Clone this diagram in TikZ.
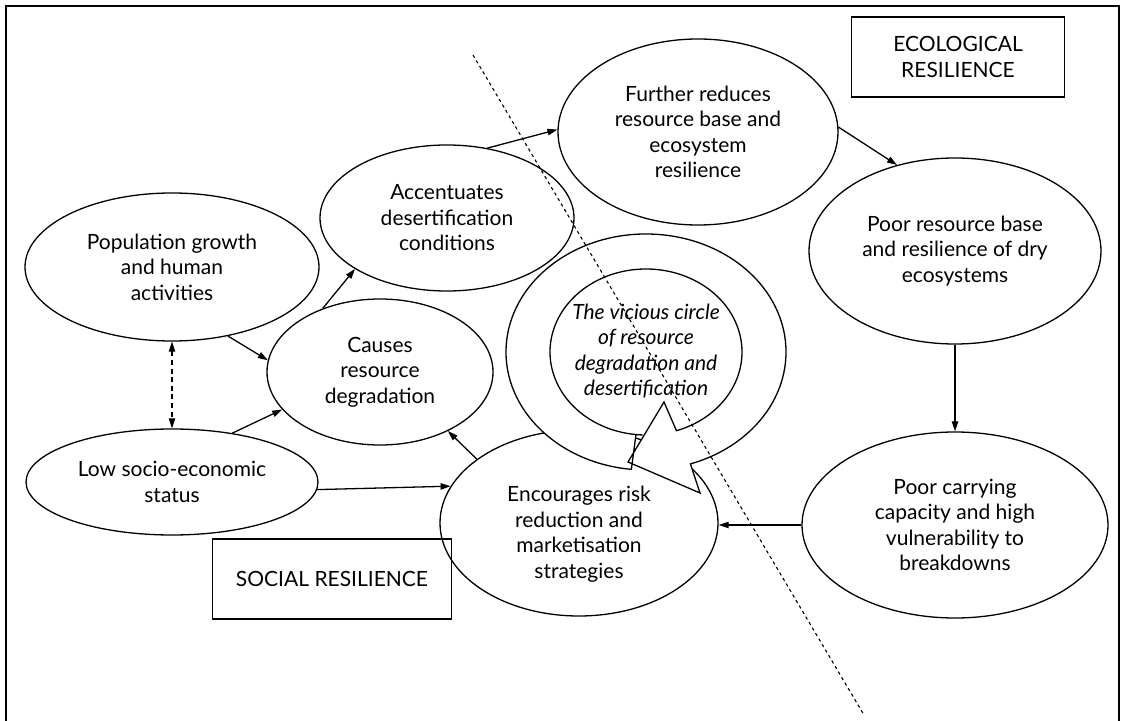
\documentclass[tikz,border=0pt]{standalone}
\usepackage{fontspec}
\setmainfont{Lato}
\usetikzlibrary{shapes.geometric,arrows.meta,calc}
\begin{document}
\begin{tikzpicture}[x=0.5pt,y=0.5pt,
  every node/.style={font=\fontsize{10.5}{12.75}\selectfont, align=center},
  oval/.style={ellipse, draw, line width=0.65pt, inner sep=0pt},
  lblbox/.style={draw, line width=0.65pt, inner sep=0pt},
  conn/.style={line width=0.65pt, -{Triangle[length=5pt,width=3.2pt]}},
  dconn/.style={line width=0.6pt, dash pattern=on 2.5pt off 1.8pt, {Triangle[length=5pt,width=3.2pt]}-{Triangle[length=5pt,width=3.2pt]}},
  vtxt/.style={font=\fontsize{10.5}{12.75}\selectfont\itshape},
]
\useasboundingbox (0,0) rectangle (1124,-721);
\draw[line width=0.9pt] (6,-721) -- (6,-6) -- (1119,-6) -- (1119,-721);

% ellipses
\node[oval, minimum width=147pt, minimum height=74pt] (pop) at (172,-267) {Population growth\\and human\\activities};
\node[oval, minimum width=127pt, minimum height=73pt] (acc) at (447,-218) {Accentuates\\desertification\\conditions};
\node[oval, minimum width=113pt, minimum height=73pt] (cau) at (380,-372) {Causes\\resource\\degradation};
\node[oval, minimum width=146pt, minimum height=53pt] (low) at (172,-482) {Low socio-economic\\status};
\node[oval, minimum width=139pt, minimum height=93pt] (enc) at (579,-523) {};
\node (enctext) at (579,-534) {Encourages risk\\reduction and\\marketisation\\strategies};
\node[oval, minimum width=140pt, minimum height=93pt] (fur) at (698,-132) {Further reduces\\resource base and\\ecosystem\\resilience};
\node[oval, minimum width=146pt, minimum height=93pt] (prb) at (955,-251) {Poor resource base\\and resilience of dry\\ecosystems};
\node[oval, minimum width=153pt, minimum height=93pt] (pcc) at (955,-525) {Poor carrying\\capacity and high\\vulnerability to\\breakdowns};

% boxes
\node[lblbox, minimum width=106.5pt, minimum height=40pt] (eco) at (958,-57) {ECOLOGICAL\\RESILIENCE};
\node[lblbox, minimum width=119.5pt, minimum height=40pt] (soc) at (332,-579) {SOCIAL RESILIENCE};

% connectors
\draw[conn] (pop.309.5) -- (cau.174);
\draw[conn] (low.39) -- (cau.201);
\draw[conn] (cau.132) -- (acc.209);
\draw[conn] (acc.60) -- (fur.179);
\draw[conn] (fur.2.4) -- (prb.124);
\draw[conn] (prb.south) -- (pcc.north);
\draw[conn] (pcc.west) -- (pcc.west -| enc.east);
\draw[conn] (low.357.7) -- (enc.164);
\draw[conn] (enc.148.4) -- (cau.319);
\draw[dconn] (pop.south) -- (low.north);

% vicious circle ring arrow
\coordinate (vc) at (646,-352);
\draw[line width=0.65pt, fill=white]
  ($(vc)+(264:140 and 118)$) arc[start angle=264, end angle=-71.5, x radius=140, y radius=118]
  -- (700,-493) -- (628,-462) -- (664,-402)
  -- ($(vc)+(-71.5:96 and 83)$) arc[start angle=-71.5, end angle=264, x radius=96, y radius=83]
  -- cycle;
\draw[line width=0.65pt] ($(vc)+(264:96 and 83)$) arc[start angle=264, end angle=268, x radius=96, y radius=83];
\node[vtxt] (vtext) at (646,-351) {The vicious circle\\of resource\\degradation and\\desertification};

% dividing dashed line
\coordinate (dtop) at (473,-55);
\coordinate (dbot) at (864,-715);
\draw[line width=0.55pt, dash pattern=on 1.6pt off 1.6pt] (dtop) -- (dbot);
\end{tikzpicture}
\end{document}
